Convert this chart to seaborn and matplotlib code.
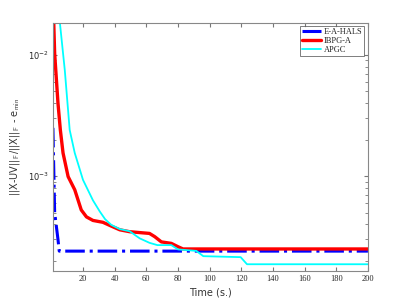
import matplotlib
matplotlib.use('Agg')
import matplotlib.pyplot as plt
import seaborn as sns
from matplotlib.ticker import LogLocator, FixedLocator, NullFormatter

# Data (time in s, relative error minus e_min)
t_hals = [1, 2.1, 4.2, 5, 200]
err_hals = [2.5e-3, 5.0e-4, 3.0e-4, 2.4e-4, 2.4e-4]

t_ibpg = [1, 1.5, 2.1, 4.2, 5.7, 7.4, 10.6, 14.8, 18.9, 22.2, 26.3, 32.6, 37.9,
          43.2, 49.5, 62, 65.3, 69.5, 75.8, 80, 83.2, 200]
err_ibpg = [0.03, 0.019, 0.0103, 0.0040, 0.0024, 0.00155, 9.9e-4, 7.7e-4, 5.25e-4,
            4.6e-4, 4.3e-4, 4.15e-4, 3.86e-4, 3.6e-4, 3.47e-4, 3.36e-4, 3.16e-4,
            2.86e-4, 2.78e-4, 2.61e-4, 2.5e-4, 2.5e-4]

t_apgc = [1, 3, 5.3, 8.5, 11.6, 14.8, 20, 26.3, 30.6, 34, 37.9, 43.2, 49.5, 55.8,
          62, 67, 75.8, 80, 91.6, 96, 119.6, 123.6, 200]
err_apgc = [0.08, 0.035, 0.019, 0.0075, 0.0024, 0.00155, 9.3e-4, 6.3e-4, 5.1e-4,
            4.4e-4, 3.95e-4, 3.65e-4, 3.5e-4, 3.06e-4, 2.81e-4, 2.69e-4, 2.69e-4,
            2.48e-4, 2.41e-4, 2.18e-4, 2.14e-4, 1.87e-4, 1.87e-4]

labels = ['E-A-HALS', 'IBPG-A', 'APGC']
x_ticks = [20, 40, 60, 80, 100, 120, 140, 160, 180, 200]

sns.set_style('ticks')
plt.rcParams['font.family'] = ['DejaVu Sans']
plt.rcParams['mathtext.fontset'] = 'cm'

fig = plt.figure(figsize=(4.07, 3.05), dpi=100)
ax = fig.add_axes([0.130, 0.111, 0.774, 0.815])

sns.lineplot(x=t_hals, y=err_hals, ax=ax, color='#0000ff', linestyle='-.',
             linewidth=2.2, label=labels[0])
sns.lineplot(x=t_ibpg, y=err_ibpg, ax=ax, color='#ff0000', linestyle='-',
             linewidth=2.4, label=labels[1])
sns.lineplot(x=t_apgc, y=err_apgc, ax=ax, color='#00ffff', linestyle='-',
             linewidth=1.3, label=labels[2])

ax.set_yscale('log')
ax.set_xlim(1, 200)
ax.set_ylim(1.64e-4, 0.0185)

ax.xaxis.set_major_locator(FixedLocator(x_ticks))
ax.set_xticklabels([str(v) for v in x_ticks], family='Liberation Serif')
ax.yaxis.set_major_locator(LogLocator(base=10))
ax.yaxis.set_minor_locator(LogLocator(base=10, subs=range(2, 10)))
ax.yaxis.set_minor_formatter(NullFormatter())

ax.tick_params(which='both', direction='in', top=True, right=True,
               color='#777777', labelsize=6, pad=3)
ax.tick_params(which='major', length=3)
ax.tick_params(which='minor', length=2)
for s in ax.spines.values():
    s.set_color('#888888')
    s.set_linewidth(0.8)

ax.set_xlabel('Time (s.)', fontsize=7, color='#333333', labelpad=3)
ax.set_ylabel(r'||X-UV||$_\mathsf{F}$/||X||$_\mathsf{F}$ - e$_\mathsf{min}$',
              fontsize=7, color='#333333', labelpad=4)

leg = ax.legend(loc='upper right', frameon=True, fancybox=False,
                borderpad=0.25, labelspacing=0.1, handlelength=2.3,
                handletextpad=0.3, borderaxespad=0.45,
                prop={'family': 'Liberation Serif', 'size': 6})
leg.get_frame().set_edgecolor('#444444')
leg.get_frame().set_linewidth(0.6)

fig.savefig('out.png', dpi=100)
